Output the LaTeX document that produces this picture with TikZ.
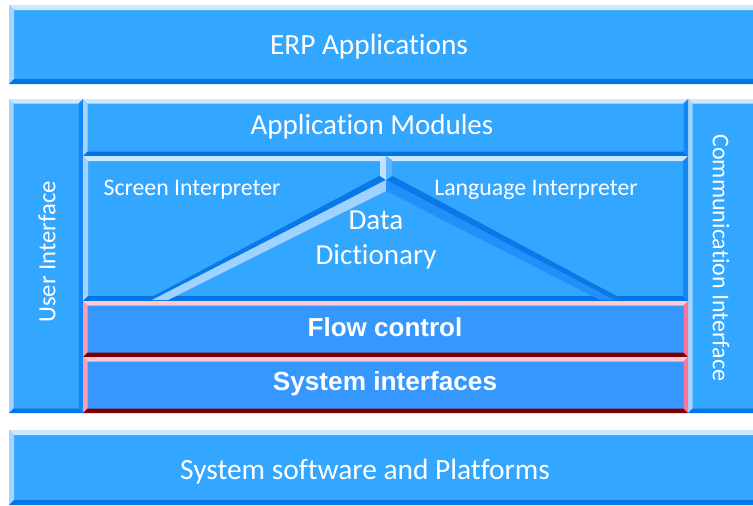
\documentclass[tikz,border=0pt]{standalone}
\usepackage{fontspec}
\setmainfont{Carlito}[Ligatures=NoCommon]
\newfontfamily\headfont{Liberation Sans}

% bevel palettes
\definecolor{blufill}{HTML}{33A6FF}
\definecolor{blutop}{HTML}{CCE8FF}
\definecolor{bluleft}{HTML}{A3D5FF}
\definecolor{blubot}{HTML}{0075E3}
\definecolor{bluright}{HTML}{1486F5}
\definecolor{redfill}{HTML}{3697FF}
\definecolor{redtop}{HTML}{FFC8D3}
\definecolor{redleft}{HTML}{FF9DB0}
\definecolor{redbot}{HTML}{800000}
\definecolor{redright}{HTML}{FF7494}
\definecolor{ridgedark}{HTML}{0A78E6}
\definecolor{ridgelight}{HTML}{9ED2FF}
\definecolor{ridgemid}{HTML}{2290FA}
\definecolor{postlight}{HTML}{BEE2FF}
\definecolor{postdark}{HTML}{5CB6FF}

% bevelled panel: x1 y1 x2 y2 bevel palette
\newcommand{\bevbox}[6]{%
  \fill[#6fill] (#1,#2) rectangle (#3,#4);
  \fill[#6top] (#1,#2) -- (#3,#2) -- ({#3-#5},{#2+#5}) -- ({#1+#5},{#2+#5}) -- cycle;
  \fill[#6left] (#1,#2) -- ({#1+#5},{#2+#5}) -- ({#1+#5},{#4-#5}) -- (#1,#4) -- cycle;
  \fill[#6bot] (#1,#4) -- ({#1+#5},{#4-#5}) -- ({#3-#5},{#4-#5}) -- (#3,#4) -- cycle;
  \fill[#6right] (#3,#2) -- (#3,#4) -- ({#3-#5},{#4-#5}) -- ({#3-#5},{#2+#5}) -- cycle;
}

\tikzset{
  lbl/.style={text=white, inner sep=0pt, align=center},
}

\begin{document}
\begin{tikzpicture}[x=1pt,y=-1pt]
\useasboundingbox (0,0) rectangle (753,506);
\clip (0,0) rectangle (753,506);

% outer layers
\bevbox{9}{5}{768}{84}{5}{blu}
\bevbox{9}{430}{768}{505}{5}{blu}

% side columns
\bevbox{9}{99}{83}{413}{4.5}{blu}
\bevbox{688}{99}{768}{413}{4.5}{blu}

% application core
\bevbox{83}{99}{688}{156}{4.5}{blu}
\bevbox{83}{156}{688}{301}{5}{blu}
\bevbox{83}{301}{688}{357}{4.5}{red}
\bevbox{83}{357}{688}{413}{4.5}{red}

% ridge between the two interpreters
\fill[ridgedark] (146,300) -- (383,174) -- (386,180) -- (152,300) -- cycle;
\fill[ridgelight] (152,300) -- (386,180) -- (388,190) -- (168,300) -- cycle;
\fill[ridgedark] (624,300) -- (389,174) -- (386,180) -- (614,300) -- cycle;
\fill[ridgemid] (614,300) -- (386,180) -- (386,191) -- (600,300) -- cycle;
% post under the top edge
\fill[postlight] (380,160) -- (386,156) -- (386,180) -- (380,176) -- cycle;
\fill[postdark] (386,156) -- (392,160) -- (392,176) -- (386,180) -- cycle;

% labels
\node[lbl, font=\fontsize{29.3}{33}\selectfont] (erp) at (369,47) {ERP Applications};
\node[lbl, font=\fontsize{29}{33}\selectfont] (mods) at (372,127) {Application Modules};
\node[lbl, font=\fontsize{23.8}{27}\selectfont] (scr) at (192,190) {Screen Interpreter};
\node[lbl, font=\fontsize{23.8}{27}\selectfont] (lang) at (536,190) {Language Interpreter};
\node[lbl, font=\fontsize{29}{35}\selectfont] (dd) at (376,240) {Data\\Dictionary};
\node[lbl, font=\headfont\bfseries\fontsize{26}{30}\selectfont] (flow) at (385,327) {Flow control};
\node[lbl, font=\headfont\bfseries\fontsize{26.2}{30}\selectfont] (sysif) at (385,384) {System interfaces};
\node[lbl, font=\fontsize{29.4}{33}\selectfont] (plat) at (365,472) {System software and Platforms};
\node[lbl, font=\fontsize{24.7}{28}\selectfont, rotate=90] (ui) at (47,252) {User Interface};
\node[lbl, font=\fontsize{24}{28}\selectfont, rotate=-90] (comm) at (721,258) {Communication Interface};
\end{tikzpicture}
\end{document}
